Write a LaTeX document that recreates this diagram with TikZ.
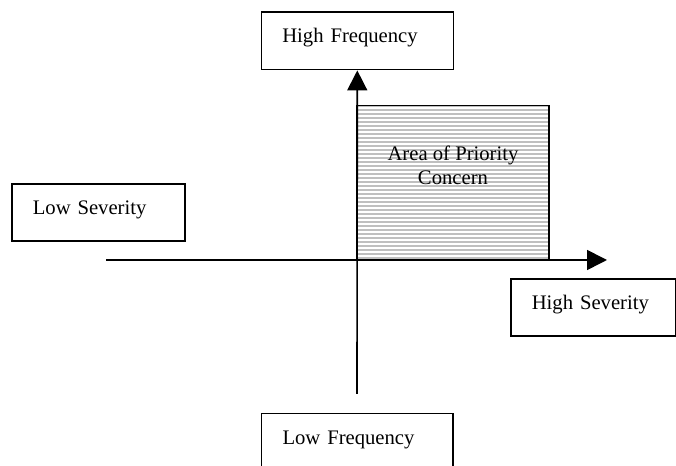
\documentclass[tikz,border=0pt]{standalone}
\usepackage{fontspec}
\setmainfont{Liberation Serif}
\usetikzlibrary{arrows.meta,positioning}

\begin{document}
\begin{tikzpicture}[x=0.75pt,y=-0.75pt,
    every node/.style={font=\fontsize{15.5}{18}\selectfont},
    labelbox/.style={draw,line width=1.2pt,inner xsep=15.75pt,inner ysep=0pt,
        text height=23pt,text depth=20pt,align=left,anchor=north west},
    axis/.style={line width=1.2pt,-{Triangle[length=15pt,width=15pt]}}]
    \useasboundingbox (0,0) rectangle (676,466);

    % Priority area
    \fill[gray!50] (357,105.5) rectangle (549,260);
    \foreach \y in {108,112,...,256}
        \draw[white,line width=0.9pt] (357,\y) -- (549,\y);
    \draw[line width=1.2pt] (357,105.5) rectangle (549,260);
    \node[align=center,inner sep=0pt,anchor=north] (area) at (453,146)
        {Area of Priority\\Concern};

    % Labels
    \node[labelbox,text width=112.5pt] (hifreq) at (260.5,11.5) {High Frequency};
    \node[labelbox,text width=98.25pt] (lowsev) at (11,183) {Low Severity};
    \node[labelbox,text width=92.25pt] (hisev) at (510,278) {High Severity};
    \node[labelbox,text width=112pt] (lowfreq) at (260.7,412.7) {Low Frequency};

    % Axes
    \coordinate (hstart) at (106,260);
    \coordinate (hend) at (607,260);
    \coordinate (vstart) at (357,394);
    \draw[axis] (hstart) -- (hend);
    \draw[axis] (vstart) -- (hifreq.south);
\end{tikzpicture}
\end{document}
